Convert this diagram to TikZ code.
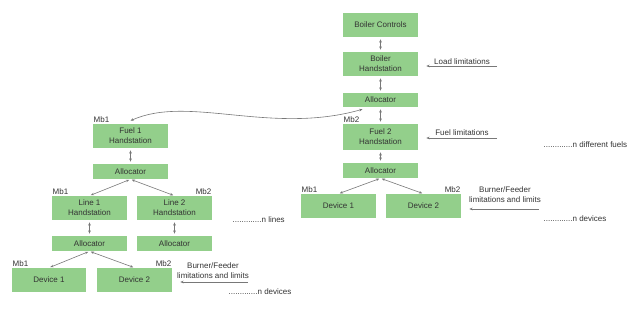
\documentclass[tikz,border=0pt]{standalone}
\usepackage{fontspec}
\setmainfont{Liberation Sans}
\usepackage{xcolor}
\usetikzlibrary{calc,arrows.meta,positioning}
\definecolor{boxGreen}{RGB}{147,207,139}
\definecolor{txtGray}{RGB}{51,51,51}
\definecolor{lineGray}{RGB}{120,120,120}

\begin{document}
\begin{tikzpicture}[x=0.75pt, y=-0.75pt,
  every node/.style={font=\fontsize{6}{7.5}\selectfont, text=txtGray},
  blk/.style={fill=boxGreen, minimum width=56.25pt, minimum height=18pt, inner sep=0pt, align=center},
  blkthin/.style={blk, minimum height=11.25pt},
  link/.style={lineGray, line width=0.45pt, {Stealth[length=2.5pt,width=2pt]}-{Stealth[length=2.5pt,width=2pt]}, shorten <=1.5pt, shorten >=1.5pt},
  feed/.style={lineGray, line width=0.45pt, -{Stealth[length=2.5pt,width=2pt]}, shorten >=6pt},
  tag/.style={inner sep=0.5pt}]
\useasboundingbox (0,0) rectangle (636,309);

% boiler chain
\node[blk] (bctrl) at (380.5,25) {Boiler Controls};
\node[blk] (bhand) at (380.5,64) {Boiler\\Handstation};
\node[blkthin, minimum height=10.5pt] (balloc) at (380.5,100) {Allocator};
\node[blk, minimum height=19.5pt] (fuel2) at (380.5,137) {Fuel 2\\Handstation};
\node[blkthin] (alloc2) at (380.5,170.5) {Allocator};
\node[blk] (dev2a) at (338.5,206) {Device 1};
\node[blk] (dev2b) at (423.5,206) {Device 2};

% fuel 1 chain
\node[blk] (fuel1) at (130.5,136) {Fuel 1\\Handstation};
\node[blkthin] (alloc1) at (130.5,171.5) {Allocator};
\node[blk] (line1) at (89.5,208) {Line 1\\Handstation};
\node[blk] (line2) at (174.5,208) {Line 2\\Handstation};
\node[blkthin] (alloc1a) at (89.5,243.5) {Allocator};
\node[blkthin] (alloc1b) at (174.5,243.5) {Allocator};
\node[blk, minimum width=55.5pt] (dev1a) at (49,280) {Device 1};
\node[blk] (dev1b) at (134.5,280) {Device 2};

% Mb tags
\node[tag, anchor=south west] at (fuel1.north west) {Mb1};
\node[tag, anchor=south west] at (fuel2.north west) {Mb2};
\node[tag, anchor=south west] at (line1.north west) {Mb1};
\node[tag, anchor=south east] at (line2.north east) {Mb2};
\node[tag, anchor=south west] at (dev1a.north west) {Mb1};
\node[tag, anchor=south east] at (dev1b.north east) {Mb2};
\node[tag, anchor=south west] at (dev2a.north west) {Mb1};
\node[tag, anchor=south east] at (dev2b.north east) {Mb2};

% connectors
\draw[link] (bctrl) -- (bhand);
\draw[link] (bhand) -- (balloc);
\draw[link] (balloc) -- (fuel2);
\draw[link] (fuel2) -- (alloc2);
\draw[link, shorten <=1pt, shorten >=1pt] (alloc2.south) -- (dev2a.north);
\draw[link, shorten <=1pt, shorten >=1pt] (alloc2.south) -- (dev2b.north);
\draw[link] (fuel1) -- (alloc1);
\draw[link, shorten <=1pt, shorten >=1pt] (alloc1.south) -- (line1.north);
\draw[link, shorten <=1pt, shorten >=1pt] (alloc1.south) -- (line2.north);
\draw[link] (line1) -- (alloc1a);
\draw[link] (line2) -- (alloc1b);
\draw[link, shorten <=1pt, shorten >=1pt] (alloc1a.south) -- (dev1a.north);
\draw[link, shorten <=1pt, shorten >=1pt] (alloc1a.south) -- (dev1b.north);
\draw[link, shorten <=0pt, shorten >=0pt] ([yshift=2.25pt]fuel1.north)
  .. controls +(58,-26) and +(-92,26) .. ([xshift=-13.5pt, yshift=-1.5pt]balloc.south);

% limits coming in
\coordinate (loadin) at (497,66);
\coordinate (fuelin) at (497,138);
\coordinate (burn2in) at (539,209);
\coordinate (burn1in) at (248,282);
\draw[feed] (loadin) -- (loadin -| bhand.east);
\draw[feed] (fuelin) -- (fuelin -| fuel2.east);
\draw[feed] (burn2in) -- (burn2in -| dev2b.east);
\draw[feed] (burn1in) -- (burn1in -| dev1b.east);
\node at (462,62) {Load limitations};
\node at (462,133) {Fuel limitations};
\node[align=center] at (505,194.5) {Burner/Feeder\\limitations and limits};
\node[align=center] at (213,271) {Burner/Feeder\\limitations and limits};

% counts
\node[anchor=west] at (539,145) {.............n different fuels};
\node[anchor=west] at (539,219) {.............n devices};
\node[anchor=west] at (228,220) {.............n lines};
\node[anchor=west] at (224,292) {.............n devices};
\end{tikzpicture}
\end{document}
